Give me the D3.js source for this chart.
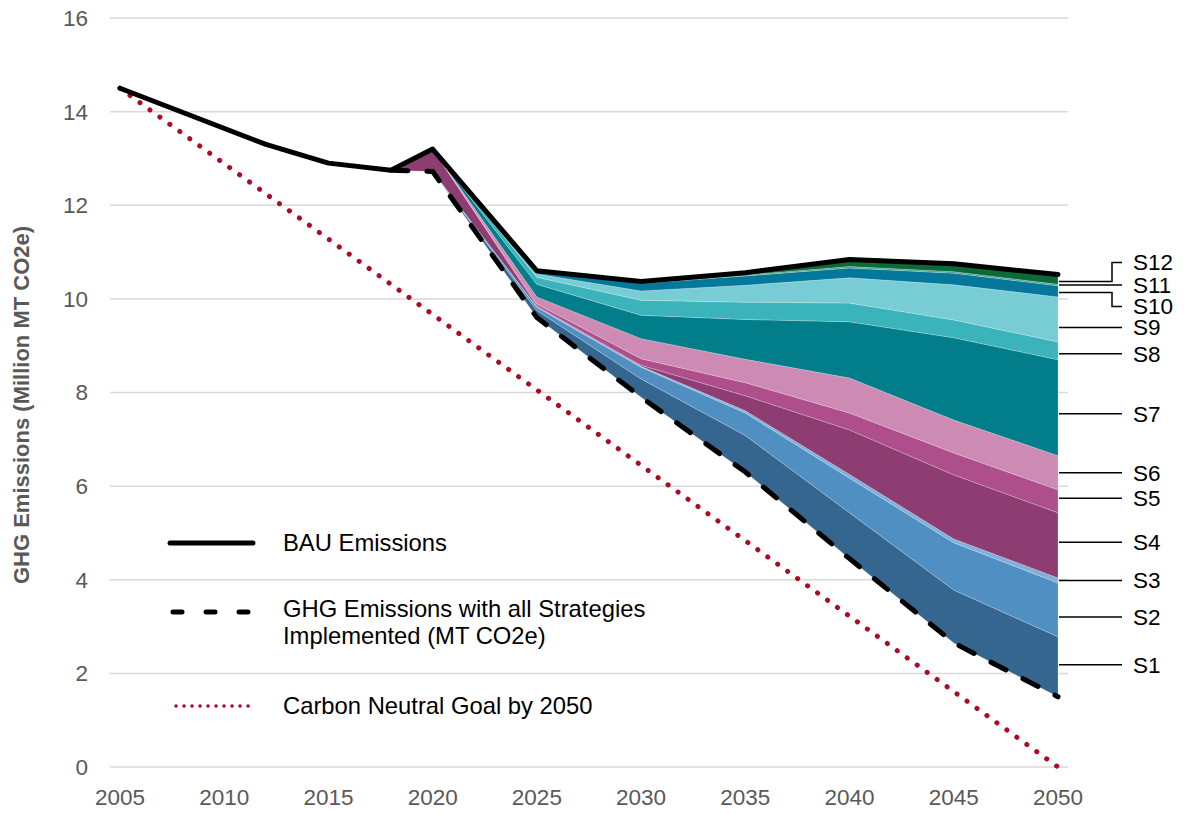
<!DOCTYPE html>
<html>
<head>
<meta charset="utf-8">
<script src="https://cdn.jsdelivr.net/npm/d3@7"></script>
<style>
  body { margin: 0; background: #fff; }
  svg text { font-family: Arial, "Liberation Sans", sans-serif; }
</style>
</head>
<body>
<svg width="1186" height="814"></svg>
<script>
// historic + projected BAU emissions (million MT CO2e)
var bauYears = [2005, 2012, 2015, 2018, 2020, 2025, 2030, 2035, 2040, 2045, 2050];
var bauValues = [14.5, 13.3, 12.9, 12.75, 13.2, 10.6, 10.37, 10.56, 10.84, 10.75, 10.52];

// strategy wedges, years they are given for
var stratYears = [2018, 2020, 2025, 2030, 2035, 2040, 2045, 2050];
// emissions with every strategy in place (dashed line, bottom of the wedges)
var allStrategies = [12.75, 12.72, 9.6, 7.9, 6.3, 4.45, 2.65, 1.5];
var stratNames = ["S1","S2","S3","S4","S5","S6","S7","S8","S9","S10","S11","S12"];
var S1  = [0, 0,    0.15, 0.39, 0.78, 0.98, 1.13, 1.28];
var S2  = [0, 0,    0.07, 0.25, 0.48, 0.74, 1.01, 1.15];
var S3  = [0, 0,    0.01, 0.02, 0.05, 0.08, 0.08, 0.11];
var S4  = [0, 0.48, 0.02, 0.02, 0.32, 0.95, 1.37, 1.39];
var S5  = [0, 0,    0.04, 0.14, 0.28, 0.36, 0.47, 0.49];
var S6  = [0, 0,    0.15, 0.43, 0.50, 0.75, 0.70, 0.73];
var S7  = [0, 0,    0.27, 0.50, 0.85, 1.20, 1.76, 2.05];
var S8  = [0, 0,    0.15, 0.32, 0.37, 0.40, 0.38, 0.38];
var S9  = [0, 0,    0.07, 0.20, 0.36, 0.54, 0.75, 0.96];
var S10 = [0, 0,    0.06, 0.16, 0.20, 0.21, 0.25, 0.24];
var S11 = [0, 0,    0.01, 0.02, 0.02, 0.03, 0.03, 0.03];
var S12 = [0, 0,    0.00, 0.02, 0.05, 0.15, 0.17, 0.21];

// carbon neutral goal
var goalYears = [2005, 2050];
var goalValues = [14.5, 0];

var xTicks = [2005, 2010, 2015, 2020, 2025, 2030, 2035, 2040, 2045, 2050];
var yTicks = [0, 2, 4, 6, 8, 10, 12, 14, 16];

var legendLabels = [["BAU Emissions"],
  ["GHG Emissions with all Strategies", "Implemented (MT CO2e)"],
  ["Carbon Neutral Goal by 2050"]];

var colors = ["#34668f","#4f8fc2","#80b0d8","#8e3d72","#ae4f8c","#cd8ab3",
              "#027e8b","#3bb3bb","#77cdd3","#04789a","#3d9c8c","#0c6a39"];

var svg = d3.select("svg");
var x = d3.scaleLinear().domain([2005, 2050]).range([120, 1058]);
var y = d3.scaleLinear().domain([0, 16]).range([767, 18]);

// gridlines
svg.append("g").selectAll("line")
  .data(yTicks).enter().append("line")
  .attr("x1", x(2005) - 10).attr("x2", x(2050) + 10)
  .attr("y1", y).attr("y2", y)
  .attr("stroke", "#d9d9d9").attr("stroke-width", 1.5);

// axis labels
svg.append("g").selectAll("text")
  .data(yTicks).enter().append("text")
  .attr("x", 88).attr("y", y).attr("dy", "0.35em")
  .attr("text-anchor", "end").attr("font-size", 22.5).attr("fill", "#595959")
  .text(function(d){ return d; });

svg.append("g").selectAll("text")
  .data(xTicks).enter().append("text")
  .attr("x", x).attr("y", 805)
  .attr("text-anchor", "middle").attr("font-size", 22.5).attr("fill", "#595959")
  .text(function(d){ return d; });

svg.append("text")
  .attr("transform", "translate(29," + 405 + ") rotate(-90)")
  .attr("text-anchor", "middle").attr("font-size", 22).attr("font-weight", "bold")
  .attr("fill", "#595959")
  .text("GHG Emissions (Million MT CO2e)");

// stacked wedges on top of the all-strategies line
var series = [S1,S2,S3,S4,S5,S6,S7,S8,S9,S10,S11,S12];
var rows = stratYears.map(function(yr, i){
  var r = {year: yr, base: allStrategies[i]};
  stratNames.forEach(function(n, k){ r[n] = series[k][i]; });
  return r;
});
var stacked = d3.stack().keys(["base"].concat(stratNames))(rows).slice(1);

var area = d3.area()
  .x(function(d){ return x(d.data.year); })
  .y0(function(d){ return y(d[0]); })
  .y1(function(d){ return y(d[1]); });

svg.append("g").selectAll("path")
  .data(stacked).enter().append("path")
  .attr("d", area)
  .attr("fill", function(d, i){ return colors[i]; })
  .attr("stroke", "#ffffff").attr("stroke-opacity", 0.3).attr("stroke-width", 0.7);

var line = d3.line()
  .x(function(d){ return x(d[0]); })
  .y(function(d){ return y(d[1]); });

// goal line
svg.append("path")
  .attr("d", line(d3.zip(goalYears, goalValues)))
  .attr("fill", "none").attr("stroke", "#ae0a24").attr("stroke-width", 5)
  .attr("stroke-linecap", "round").attr("stroke-dasharray", "0.1,12.2");

// all strategies line
svg.append("path")
  .attr("d", line(d3.zip(stratYears, allStrategies)))
  .attr("fill", "none").attr("stroke", "#000").attr("stroke-width", 5)
  .attr("stroke-linecap", "round").attr("stroke-dasharray", "17,19");

// BAU
svg.append("path")
  .attr("d", line(d3.zip(bauYears, bauValues)))
  .attr("fill", "none").attr("stroke", "#000").attr("stroke-width", 5)
  .attr("stroke-linejoin", "round").attr("stroke-linecap", "round");

// right side labels: leader at the middle of each wedge in 2050,
// nudged a little the way the original labels sit
var last = stratYears.length - 1;
var nudge = {S1: -2, S2: 7, S4: -3, S5: -3, S7: 6, S8: 3, S9: 8, S10: 1, S12: 2};
var elbow = {S12: -19, S10: 14};
var lbl = svg.append("g");
stacked.forEach(function(s){
  var name = s.key;
  var my = y((s[last][0] + s[last][1]) / 2) + (nudge[name] || 0);
  var dy = elbow[name] || 0;
  var x0 = x(2050) + 1, xe = x(2050) + 54, x1 = x(2050) + 64;
  var pts = dy ? [[x0, my], [xe, my], [xe, my + dy], [x1, my + dy]] : [[x0, my], [x1, my]];
  lbl.append("path")
    .attr("d", d3.line()(pts))
    .attr("fill", "none").attr("stroke", "#000").attr("stroke-width", 1.5);
  lbl.append("text")
    .attr("x", x(2050) + 75).attr("y", my + dy).attr("dy", "0.35em")
    .attr("font-size", 22.5).attr("fill", "#000")
    .text(name);
});

// legend
var legY = [543, 612, 706];
var leg = svg.append("g");
leg.append("line").attr("x1", 170).attr("x2", 253).attr("y1", legY[0]).attr("y2", legY[0])
  .attr("stroke", "#000").attr("stroke-width", 5).attr("stroke-linecap", "round");
leg.append("line").attr("x1", 173).attr("x2", 253).attr("y1", legY[1]).attr("y2", legY[1])
  .attr("stroke", "#000").attr("stroke-width", 5).attr("stroke-linecap", "round")
  .attr("stroke-dasharray", "9,24");
leg.append("line").attr("x1", 176).attr("x2", 254).attr("y1", legY[2]).attr("y2", legY[2])
  .attr("stroke", "#ae0a24").attr("stroke-width", 3.5).attr("stroke-linecap", "round")
  .attr("stroke-dasharray", "0.1,7.9");
legendLabels.forEach(function(lines, i){
  var t = leg.append("text").attr("x", 283).attr("font-size", 23.8).attr("fill", "#000");
  var top = lines.length > 1 ? legY[i] - 3 : legY[i];
  lines.forEach(function(s, k){
    t.append("tspan").attr("x", 283).attr("y", top + k * 27).attr("dy", "0.35em").text(s);
  });
});
</script>
</body>
</html>
